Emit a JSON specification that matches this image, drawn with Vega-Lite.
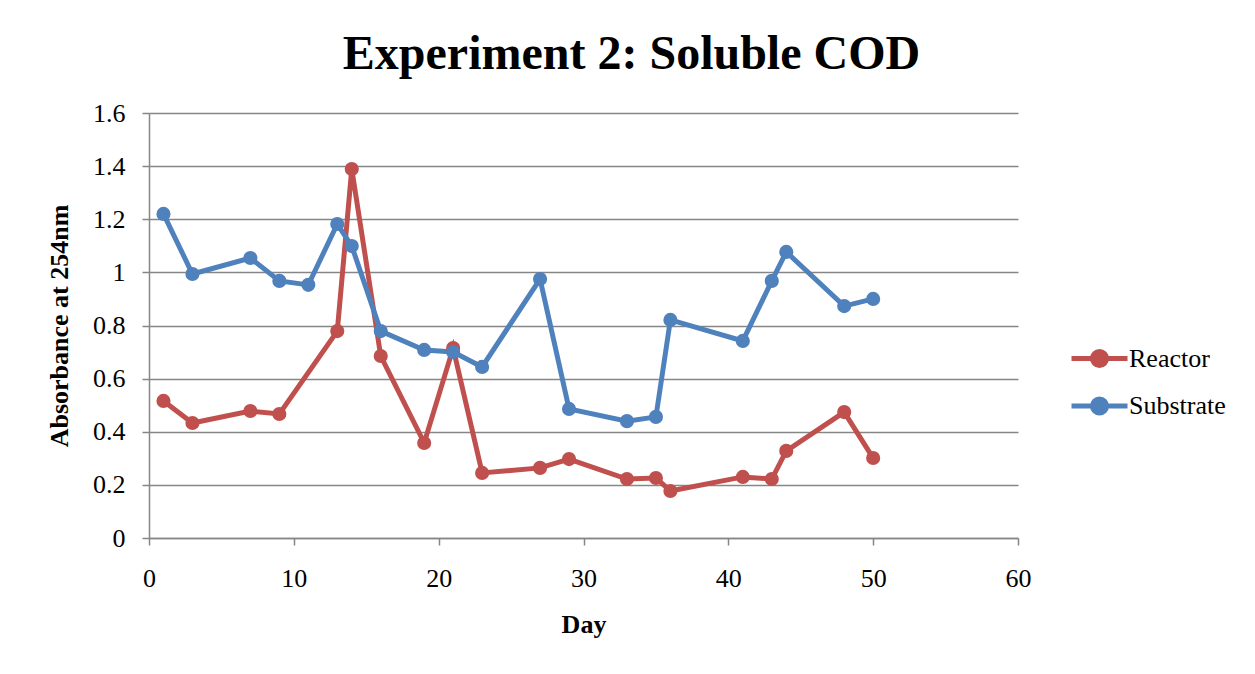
{
  "$schema": "https://vega.github.io/schema/vega-lite/v6.json",
  "width": 869,
  "height": 425,
  "autosize": {"type": "none"},
  "padding": {"left": 149, "top": 113, "right": 237, "bottom": 136},
  "background": "white",
  "title": {
    "text": "Experiment 2: Soluble COD",
    "font": "Liberation Serif",
    "fontSize": 48,
    "fontWeight": "bold",
    "color": "black",
    "anchor": "middle",
    "dx": 48,
    "offset": 21
  },
  "data": {
    "values": [
      {"day": 1, "value": 0.516, "series": "Reactor"},
      {"day": 3, "value": 0.433, "series": "Reactor"},
      {"day": 7, "value": 0.478, "series": "Reactor"},
      {"day": 9, "value": 0.467, "series": "Reactor"},
      {"day": 13, "value": 0.779, "series": "Reactor"},
      {"day": 14, "value": 1.389, "series": "Reactor"},
      {"day": 16, "value": 0.685, "series": "Reactor"},
      {"day": 19, "value": 0.358, "series": "Reactor"},
      {"day": 21, "value": 0.715, "series": "Reactor"},
      {"day": 23, "value": 0.245, "series": "Reactor"},
      {"day": 27, "value": 0.264, "series": "Reactor"},
      {"day": 29, "value": 0.297, "series": "Reactor"},
      {"day": 33, "value": 0.222, "series": "Reactor"},
      {"day": 35, "value": 0.226, "series": "Reactor"},
      {"day": 36, "value": 0.177, "series": "Reactor"},
      {"day": 41, "value": 0.230, "series": "Reactor"},
      {"day": 43, "value": 0.222, "series": "Reactor"},
      {"day": 44, "value": 0.328, "series": "Reactor"},
      {"day": 48, "value": 0.474, "series": "Reactor"},
      {"day": 50, "value": 0.301, "series": "Reactor"},
      {"day": 1, "value": 1.220, "series": "Substrate"},
      {"day": 3, "value": 0.994, "series": "Substrate"},
      {"day": 7, "value": 1.054, "series": "Substrate"},
      {"day": 9, "value": 0.968, "series": "Substrate"},
      {"day": 11, "value": 0.953, "series": "Substrate"},
      {"day": 13, "value": 1.182, "series": "Substrate"},
      {"day": 14, "value": 1.099, "series": "Substrate"},
      {"day": 16, "value": 0.779, "series": "Substrate"},
      {"day": 19, "value": 0.708, "series": "Substrate"},
      {"day": 21, "value": 0.700, "series": "Substrate"},
      {"day": 23, "value": 0.644, "series": "Substrate"},
      {"day": 27, "value": 0.975, "series": "Substrate"},
      {"day": 29, "value": 0.486, "series": "Substrate"},
      {"day": 33, "value": 0.440, "series": "Substrate"},
      {"day": 35, "value": 0.456, "series": "Substrate"},
      {"day": 36, "value": 0.821, "series": "Substrate"},
      {"day": 41, "value": 0.742, "series": "Substrate"},
      {"day": 43, "value": 0.968, "series": "Substrate"},
      {"day": 44, "value": 1.077, "series": "Substrate"},
      {"day": 48, "value": 0.873, "series": "Substrate"},
      {"day": 50, "value": 0.900, "series": "Substrate"}
    ]
  },
  "mark": {"type": "line", "strokeWidth": 5, "point": {"size": 200, "filled": true, "opacity": 1}},
  "encoding": {
    "x": {
      "field": "day",
      "type": "quantitative",
      "scale": {"domain": [0, 60], "nice": false, "zero": false},
      "axis": {
        "title": "Day",
        "values": [0, 10, 20, 30, 40, 50, 60],
        "grid": false,
        "labelFlush": false,
        "domainColor": "#868686",
        "domainWidth": 1.5,
        "tickColor": "#868686",
        "tickWidth": 1.5,
        "tickSize": 7,
        "labelFont": "Liberation Serif",
        "labelFontSize": 26,
        "labelColor": "black",
        "labelPadding": 20,
        "titleFont": "Liberation Serif",
        "titleFontSize": 26,
        "titleFontWeight": "bold",
        "titleColor": "black",
        "titlePadding": 20
      }
    },
    "y": {
      "field": "value",
      "type": "quantitative",
      "scale": {"domain": [0, 1.6], "nice": false},
      "axis": {
        "title": "Absorbance at 254nm",
        "values": [0, 0.2, 0.4, 0.6, 0.8, 1, 1.2, 1.4, 1.6],
        "format": "~g",
        "grid": true,
        "labelFlush": false,
        "gridColor": "#868686",
        "gridWidth": 1.5,
        "domainColor": "#868686",
        "domainWidth": 1.5,
        "tickColor": "#868686",
        "tickWidth": 1.5,
        "tickSize": 7,
        "labelFont": "Liberation Serif",
        "labelFontSize": 26,
        "labelColor": "black",
        "labelPadding": 17,
        "titleFont": "Liberation Serif",
        "titleFontSize": 26,
        "titleFontWeight": "bold",
        "titleColor": "black",
        "titlePadding": 20
      }
    },
    "color": {
      "field": "series",
      "type": "nominal",
      "scale": {"domain": ["Reactor", "Substrate"], "range": ["#C0504D", "#4F81BD"]},
      "legend": {
        "title": null,
        "orient": "none",
        "legendX": 934,
        "legendY": 229,
        "padding": 0,
        "symbolType": "M-2,0L2,0M0.5,0A0.5,0.5,0,1,1,-0.5,0A0.5,0.5,0,1,1,0.5,0Z",
        "symbolSize": 784,
        "symbolStrokeWidth": 5,
        "symbolOpacity": 1,
        "labelFont": "Liberation Serif",
        "labelFontSize": 26,
        "labelColor": "black",
        "labelOffset": 13,
        "rowPadding": 12.5,
        "encoding": {
          "symbols": {
            "update": {
              "fill": {"scale": "color", "field": "value"},
              "stroke": {"scale": "color", "field": "value"},
              "opacity": {"value": 1}
            }
          }
        }
      }
    }
  },
  "config": {
    "view": {"stroke": null}
  }
}
